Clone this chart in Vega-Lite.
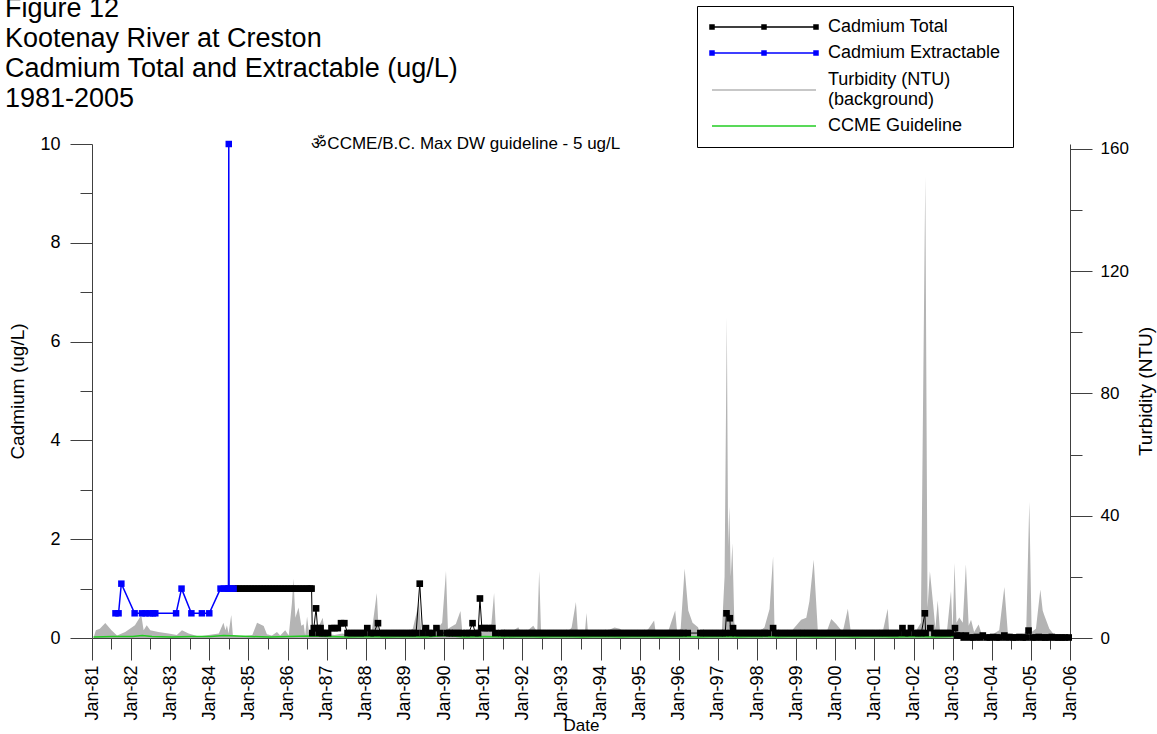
{
  "width": 978,
  "height": 494,
  "autosize": {"type": "none"},
  "padding": {"left": 92, "top": 144, "right": 87, "bottom": 96},
  "config": {
    "view": {"stroke": null},
    "font": "Liberation Sans",
    "axis": {
      "domainColor": "#404040", "tickColor": "#404040", "labelColor": "#000000", "titleColor": "#000000",
      "labelFont": "Liberation Sans", "titleFont": "Liberation Sans", "labelFontSize": 18, "titleFontSize": 19,
      "titleFontWeight": "normal", "grid": false, "domainWidth": 1, "tickWidth": 1
    }
  },
  "title": {
    "text": ["Figure 12", "Kootenay River at Creston", "Cadmium Total and Extractable (ug/L)", "1981-2005"],
    "anchor": "start", "frame": "group", "fontSize": 27, "fontWeight": "normal", "font": "Liberation Sans",
    "lineHeight": 30, "offset": 34, "dx": -87, "dy": 141, "color": "#000000"
  },
  "datasets": {
    "turb": [
      {"d":"1981-01-19","t":0.5},{"d":"1981-02-06","t":2.5},{"d":"1981-03-15","t":3},{"d":"1981-05-05","t":4.9},{"d":"1981-07-02","t":2.5},{"d":"1981-08-23","t":0.8},{"d":"1981-11-07","t":2},
      {"d":"1982-02-06","t":4.2},{"d":"1982-04-06","t":7.5},{"d":"1982-04-28","t":2.5},{"d":"1982-05-27","t":4.2},{"d":"1982-06-29","t":2.5},{"d":"1982-09-13","t":2},{"d":"1982-12-17","t":1.5},
      {"d":"1983-03-04","t":1},{"d":"1983-04-21","t":2.5},{"d":"1983-06-22","t":1.5},{"d":"1983-09-24","t":0.5},{"d":"1983-12-25","t":1},
      {"d":"1984-03-30","t":1.5},{"d":"1984-05-12","t":5},{"d":"1984-05-31","t":2.5},{"d":"1984-06-14","t":4.2},{"d":"1984-06-29","t":1.5},{"d":"1984-07-24","t":7.5},{"d":"1984-08-08","t":1},{"d":"1984-10-31","t":0.5},
      {"d":"1985-02-06","t":1},{"d":"1985-03-22","t":5},{"d":"1985-05-23","t":3.9},{"d":"1985-06-22","t":1.2},{"d":"1985-08-08","t":0.8},{"d":"1985-09-24","t":2},{"d":"1985-10-24","t":0.8},{"d":"1985-12-10","t":2.5},
      {"d":"1986-01-12","t":0.8},{"d":"1986-02-10","t":11.2},{"d":"1986-02-25","t":19.4},{"d":"1986-03-15","t":6.6},{"d":"1986-04-13","t":10},{"d":"1986-05-09","t":4},{"d":"1986-05-31","t":4.5},{"d":"1986-06-14","t":0.8},{"d":"1986-07-02","t":7},{"d":"1986-07-21","t":1.5},{"d":"1986-09-13","t":1},{"d":"1986-11-25","t":6.6},{"d":"1986-12-14","t":1.5},
      {"d":"1987-03-15","t":1},{"d":"1987-05-27","t":1.5},{"d":"1987-08-08","t":0.8},{"d":"1987-11-25","t":1},
      {"d":"1988-02-25","t":2},{"d":"1988-04-13","t":14.7},{"d":"1988-05-01","t":2},{"d":"1988-08-08","t":1},{"d":"1988-11-25","t":1},
      {"d":"1989-03-15","t":3},{"d":"1989-04-21","t":8.5},{"d":"1989-05-12","t":12},{"d":"1989-06-03","t":2},{"d":"1989-09-13","t":1},{"d":"1989-12-14","t":5},
      {"d":"1990-01-19","t":21.9},{"d":"1990-02-06","t":3},{"d":"1990-04-21","t":4.6},{"d":"1990-06-03","t":8.8},{"d":"1990-06-22","t":1.5},{"d":"1990-09-13","t":1},{"d":"1990-11-25","t":1.5},
      {"d":"1991-03-15","t":3},{"d":"1991-04-13","t":14.7},{"d":"1991-05-01","t":2},{"d":"1991-08-08","t":1},{"d":"1991-11-25","t":3.5},
      {"d":"1992-01-01","t":1},{"d":"1992-04-13","t":4},{"d":"1992-05-20","t":2},{"d":"1992-06-07","t":21.9},{"d":"1992-06-25","t":1.5},{"d":"1992-10-20","t":1},
      {"d":"1993-02-06","t":1},{"d":"1993-04-06","t":3.4},{"d":"1993-05-16","t":11.8},{"d":"1993-06-03","t":2},{"d":"1993-08-08","t":2},{"d":"1993-08-23","t":8.2},{"d":"1993-09-06","t":1.5},{"d":"1993-11-25","t":1},
      {"d":"1994-05-12","t":3.4},{"d":"1994-06-29","t":3},{"d":"1994-09-13","t":1},
      {"d":"1995-03-15","t":2.5},{"d":"1995-05-16","t":5.7},{"d":"1995-06-03","t":1},{"d":"1995-09-13","t":1},{"d":"1995-11-29","t":9},{"d":"1995-12-17","t":2},
      {"d":"1996-01-19","t":3},{"d":"1996-02-25","t":22.7},{"d":"1996-03-30","t":9},{"d":"1996-05-09","t":5},{"d":"1996-06-29","t":3.5},{"d":"1996-07-21","t":1},{"d":"1996-10-20","t":1},
      {"d":"1997-02-06","t":2},{"d":"1997-03-04","t":20},{"d":"1997-03-25","t":105},{"d":"1997-04-06","t":30},{"d":"1997-04-17","t":43},{"d":"1997-05-01","t":20},{"d":"1997-05-16","t":31},{"d":"1997-06-03","t":5},{"d":"1997-07-02","t":1},{"d":"1997-11-25","t":1},
      {"d":"1998-03-11","t":3.4},{"d":"1998-04-28","t":9.5},{"d":"1998-05-31","t":26.7},{"d":"1998-06-14","t":1.5},{"d":"1998-10-20","t":1},{"d":"1998-12-17","t":3.4},
      {"d":"1999-02-17","t":6},{"d":"1999-04-06","t":6.6},{"d":"1999-05-05","t":12},{"d":"1999-06-14","t":25.6},{"d":"1999-07-24","t":1.5},{"d":"1999-10-02","t":1},{"d":"1999-11-25","t":6.2},
      {"d":"2000-01-12","t":4.5},{"d":"2000-01-23","t":4},{"d":"2000-03-11","t":2},{"d":"2000-04-28","t":9.6},{"d":"2000-05-27","t":1.5},{"d":"2000-09-13","t":1},
      {"d":"2001-01-01","t":1},{"d":"2001-03-19","t":2},{"d":"2001-05-05","t":9.6},{"d":"2001-05-20","t":1},{"d":"2001-09-13","t":1},
      {"d":"2002-01-01","t":1},{"d":"2002-03-11","t":5},{"d":"2002-04-21","t":151},{"d":"2002-05-12","t":10},{"d":"2002-06-03","t":21.8},{"d":"2002-07-06","t":10},{"d":"2002-07-24","t":3},{"d":"2002-08-15","t":12.3},{"d":"2002-09-06","t":2},{"d":"2002-11-07","t":1.5},{"d":"2002-12-17","t":15.4},
      {"d":"2003-01-01","t":2},{"d":"2003-01-19","t":24.5},{"d":"2003-02-06","t":5},{"d":"2003-03-04","t":6.7},{"d":"2003-04-06","t":5},{"d":"2003-05-05","t":24.1},{"d":"2003-05-31","t":4},{"d":"2003-06-22","t":6},{"d":"2003-07-21","t":2},{"d":"2003-09-01","t":4.4},{"d":"2003-10-02","t":1},
      {"d":"2004-01-01","t":1},{"d":"2004-03-11","t":2.5},{"d":"2004-04-28","t":16.7},{"d":"2004-05-31","t":1.5},{"d":"2004-09-13","t":1},{"d":"2004-11-18","t":2},{"d":"2004-12-17","t":44.6},
      {"d":"2005-01-08","t":2},{"d":"2005-02-17","t":3},{"d":"2005-03-30","t":15.9},{"d":"2005-04-21","t":9},{"d":"2005-05-05","t":7.5},{"d":"2005-06-22","t":3},{"d":"2005-08-08","t":1},{"d":"2005-12-25","t":0.5}
    ],
    "gd": [
      {"d":"1981-01-15","v":0.02},{"d":"1981-07-15","v":0.03},{"d":"1982-01-15","v":0.03},{"d":"1982-04-15","v":0.05},{"d":"1982-07-15","v":0.03},{"d":"1983-01-15","v":0.02},{"d":"1983-07-15","v":0.03},
      {"d":"1984-01-15","v":0.03},{"d":"1984-05-15","v":0.05},{"d":"1984-09-15","v":0.04},{"d":"1985-01-15","v":0.03},{"d":"1985-07-15","v":0.02},{"d":"1986-01-15","v":0.03},{"d":"1986-07-15","v":0.04},
      {"d":"1987-01-15","v":0.03},{"d":"1987-07-15","v":0.02},{"d":"1988-01-15","v":0.03},{"d":"1988-07-15","v":0.02},{"d":"1989-01-15","v":0.03},{"d":"1989-07-15","v":0.02},{"d":"1990-01-15","v":0.05},
      {"d":"1990-07-15","v":0.02},{"d":"1991-01-15","v":0.03},{"d":"1991-07-15","v":0.02},{"d":"1992-01-15","v":0.03},{"d":"1992-07-15","v":0.02},{"d":"1993-01-15","v":0.03},{"d":"1993-07-15","v":0.02},
      {"d":"1994-01-15","v":0.03},{"d":"1994-07-15","v":0.02},{"d":"1995-01-15","v":0.03},{"d":"1995-07-15","v":0.02},{"d":"1996-01-15","v":0.03},{"d":"1996-07-15","v":0.02},{"d":"1997-01-15","v":0.03},
      {"d":"1997-07-15","v":0.02},{"d":"1998-01-15","v":0.03},{"d":"1998-07-15","v":0.02},{"d":"1999-01-15","v":0.03},{"d":"1999-07-15","v":0.02},{"d":"2000-01-15","v":0.03},{"d":"2000-07-15","v":0.02},
      {"d":"2001-01-15","v":0.03},{"d":"2001-07-15","v":0.02},{"d":"2002-01-15","v":0.03},{"d":"2002-07-15","v":0.02},{"d":"2003-01-23","v":0.03}
    ],
    "ext": [
      {"d":"1981-08-08","v":0.5},{"d":"1981-09-06","v":0.5},{"d":"1981-10-02","v":1.1},
      {"d":"1982-02-03","v":0.5},{"d":"1982-04-13","v":0.5},{"d":"1982-05-16","v":0.5},{"d":"1982-06-22","v":0.5},{"d":"1982-07-24","v":0.5},{"d":"1982-08-15","v":0.5},
      {"d":"1983-02-25","v":0.5},{"d":"1983-04-17","v":1.0},{"d":"1983-07-18","v":0.5},{"d":"1983-10-24","v":0.5},
      {"d":"1984-01-01","v":0.5},{"d":"1984-04-15","v":1.0},{"d":"1984-05-15","v":1.0},{"d":"1984-06-12","v":1.0},{"d":"1984-06-28","v":1.0},
      {"d":"1984-07-01","v":10},{"d":"1984-07-04","v":1.0},{"d":"1984-07-25","v":1.0},{"d":"1984-08-15","v":1.0}
    ],
    "tot": [
      {"d":"1984-08-29","v":1},{"d":"1984-09-26","v":1},{"d":"1984-10-24","v":1},{"d":"1984-11-21","v":1},{"d":"1984-12-19","v":1},{"d":"1985-01-16","v":1},{"d":"1985-02-13","v":1},{"d":"1985-03-13","v":1},{"d":"1985-04-10","v":1},{"d":"1985-05-08","v":1},{"d":"1985-06-05","v":1},{"d":"1985-07-03","v":1},{"d":"1985-07-31","v":1},{"d":"1985-08-28","v":1},{"d":"1985-09-25","v":1},{"d":"1985-10-23","v":1},{"d":"1985-11-20","v":1},{"d":"1985-12-18","v":1},{"d":"1986-01-15","v":1},{"d":"1986-02-12","v":1},{"d":"1986-03-12","v":1},{"d":"1986-04-09","v":1},{"d":"1986-05-07","v":1},{"d":"1986-06-04","v":1},{"d":"1986-07-02","v":1},{"d":"1986-07-30","v":1},{"d":"1986-08-13","v":1},
      {"d":"1986-08-20","v":0.1},{"d":"1986-09-03","v":0.2},{"d":"1986-09-24","v":0.6},{"d":"1986-10-08","v":0.2},{"d":"1986-10-22","v":0.1},{"d":"1986-11-05","v":0.2},{"d":"1986-11-19","v":0.1},{"d":"1986-12-17","v":0.1},
      {"d":"1987-01-14","v":0.1},{"d":"1987-02-15","v":0.2},{"d":"1987-03-15","v":0.2},{"d":"1987-04-15","v":0.2},{"d":"1987-05-15","v":0.3},{"d":"1987-06-15","v":0.3},{"d":"1987-07-15","v":0.1},{"d":"1987-08-15","v":0.1},{"d":"1987-09-15","v":0.1},{"d":"1987-10-15","v":0.1},{"d":"1987-11-15","v":0.1},{"d":"1987-12-15","v":0.1},
      {"d":"1988-01-15","v":0.2},{"d":"1988-02-15","v":0.1},{"d":"1988-03-15","v":0.1},{"d":"1988-04-24","v":0.3},{"d":"1988-05-15","v":0.1},{"d":"1988-06-15","v":0.1},{"d":"1988-07-15","v":0.1},{"d":"1988-08-15","v":0.1},{"d":"1988-09-15","v":0.1},{"d":"1988-10-15","v":0.1},{"d":"1988-11-15","v":0.1},{"d":"1988-12-15","v":0.1},
      {"d":"1989-01-15","v":0.1},{"d":"1989-02-15","v":0.1},{"d":"1989-03-15","v":0.1},{"d":"1989-04-15","v":0.1},{"d":"1989-05-19","v":1.1},{"d":"1989-06-15","v":0.1},{"d":"1989-07-16","v":0.2},{"d":"1989-08-15","v":0.1},{"d":"1989-09-15","v":0.1},{"d":"1989-10-22","v":0.2},{"d":"1989-11-24","v":0.1},
      {"d":"1990-01-26","v":0.1},{"d":"1990-02-20","v":0.1},{"d":"1990-03-15","v":0.1},{"d":"1990-04-15","v":0.1},{"d":"1990-05-15","v":0.1},{"d":"1990-06-15","v":0.1},{"d":"1990-07-30","v":0.1},{"d":"1990-08-20","v":0.1},{"d":"1990-09-24","v":0.3},{"d":"1990-10-20","v":0.1},{"d":"1990-11-15","v":0.1},{"d":"1990-12-02","v":0.8},{"d":"1990-12-20","v":0.2},
      {"d":"1991-01-20","v":0.2},{"d":"1991-02-20","v":0.2},{"d":"1991-03-28","v":0.2},{"d":"1991-04-25","v":0.1},{"d":"1991-06-20","v":0.1},{"d":"1991-07-15","v":0.1},{"d":"1991-08-15","v":0.1},{"d":"1991-09-15","v":0.1},{"d":"1991-10-15","v":0.1},{"d":"1991-11-15","v":0.1},{"d":"1991-12-15","v":0.1},
      {"d":"1992-01-15","v":0.1},{"d":"1992-02-15","v":0.1},{"d":"1992-03-15","v":0.1},{"d":"1992-04-15","v":0.1},{"d":"1992-05-15","v":0.1},{"d":"1992-06-15","v":0.1},{"d":"1992-07-15","v":0.1},{"d":"1992-08-15","v":0.1},{"d":"1992-09-15","v":0.1},{"d":"1992-10-15","v":0.1},{"d":"1992-11-15","v":0.1},{"d":"1992-12-15","v":0.1},
      {"d":"1993-01-15","v":0.1},{"d":"1993-02-15","v":0.1},{"d":"1993-03-15","v":0.1},{"d":"1993-04-15","v":0.1},{"d":"1993-05-15","v":0.1},{"d":"1993-06-15","v":0.1},{"d":"1993-07-15","v":0.1},{"d":"1993-08-15","v":0.1},{"d":"1993-09-15","v":0.1},{"d":"1993-10-15","v":0.1},{"d":"1993-11-15","v":0.1},{"d":"1993-12-15","v":0.1},
      {"d":"1994-01-15","v":0.1},{"d":"1994-02-15","v":0.1},{"d":"1994-03-15","v":0.1},{"d":"1994-04-15","v":0.1},{"d":"1994-05-15","v":0.1},{"d":"1994-06-15","v":0.1},{"d":"1994-07-15","v":0.1},{"d":"1994-08-15","v":0.1},{"d":"1994-09-15","v":0.1},{"d":"1994-10-15","v":0.1},{"d":"1994-11-15","v":0.1},{"d":"1994-12-15","v":0.1},
      {"d":"1995-01-15","v":0.1},{"d":"1995-02-15","v":0.1},{"d":"1995-03-15","v":0.1},{"d":"1995-04-15","v":0.1},{"d":"1995-05-15","v":0.1},{"d":"1995-06-15","v":0.1},{"d":"1995-07-15","v":0.1},{"d":"1995-08-15","v":0.1},{"d":"1995-09-15","v":0.1},{"d":"1995-10-15","v":0.1},{"d":"1995-11-15","v":0.1},{"d":"1995-12-15","v":0.1},
      {"d":"1996-01-15","v":0.1},{"d":"1996-02-15","v":0.1},{"d":"1996-03-25","v":0.1},{"d":"1996-07-21","v":0.1},{"d":"1996-08-15","v":0.1},{"d":"1996-09-15","v":0.1},{"d":"1996-10-15","v":0.1},{"d":"1996-11-15","v":0.1},{"d":"1996-12-15","v":0.1},
      {"d":"1997-01-15","v":0.1},{"d":"1997-02-15","v":0.1},{"d":"1997-03-10","v":0.1},{"d":"1997-03-22","v":0.5},{"d":"1997-04-22","v":0.4},{"d":"1997-05-01","v":0.1},{"d":"1997-05-22","v":0.2},{"d":"1997-06-15","v":0.1},{"d":"1997-07-15","v":0.1},{"d":"1997-08-15","v":0.1},{"d":"1997-09-15","v":0.1},{"d":"1997-10-15","v":0.1},{"d":"1997-11-15","v":0.1},{"d":"1997-12-15","v":0.1},
      {"d":"1998-01-15","v":0.1},{"d":"1998-02-15","v":0.1},{"d":"1998-03-15","v":0.1},{"d":"1998-04-15","v":0.1},{"d":"1998-05-31","v":0.2},{"d":"1998-06-20","v":0.1},{"d":"1998-07-15","v":0.1},{"d":"1998-08-15","v":0.1},{"d":"1998-09-15","v":0.1},{"d":"1998-10-15","v":0.1},{"d":"1998-11-15","v":0.1},{"d":"1998-12-15","v":0.1},
      {"d":"1999-01-15","v":0.1},{"d":"1999-02-15","v":0.1},{"d":"1999-03-15","v":0.1},{"d":"1999-04-15","v":0.1},{"d":"1999-05-15","v":0.1},{"d":"1999-06-15","v":0.1},{"d":"1999-07-15","v":0.1},{"d":"1999-08-15","v":0.1},{"d":"1999-09-15","v":0.1},{"d":"1999-10-15","v":0.1},{"d":"1999-11-15","v":0.1},{"d":"1999-12-15","v":0.1},
      {"d":"2000-01-15","v":0.1},{"d":"2000-02-15","v":0.1},{"d":"2000-03-15","v":0.1},{"d":"2000-04-15","v":0.1},{"d":"2000-05-15","v":0.1},{"d":"2000-06-15","v":0.1},{"d":"2000-07-15","v":0.1},{"d":"2000-08-15","v":0.1},{"d":"2000-09-15","v":0.1},{"d":"2000-10-15","v":0.1},{"d":"2000-11-15","v":0.1},{"d":"2000-12-15","v":0.1},
      {"d":"2001-01-15","v":0.1},{"d":"2001-02-15","v":0.1},{"d":"2001-03-15","v":0.1},{"d":"2001-04-15","v":0.1},{"d":"2001-05-15","v":0.1},{"d":"2001-06-15","v":0.1},{"d":"2001-07-15","v":0.1},{"d":"2001-08-15","v":0.1},{"d":"2001-09-20","v":0.2},{"d":"2001-10-15","v":0.1},{"d":"2001-11-15","v":0.1},{"d":"2001-12-08","v":0.2},
      {"d":"2002-01-15","v":0.1},{"d":"2002-02-15","v":0.1},{"d":"2002-03-15","v":0.1},{"d":"2002-04-17","v":0.5},{"d":"2002-04-24","v":0.1},{"d":"2002-06-07","v":0.2},{"d":"2002-07-15","v":0.1},{"d":"2002-08-15","v":0.1},{"d":"2002-09-15","v":0.1},{"d":"2002-10-15","v":0.1},{"d":"2002-11-15","v":0.1},{"d":"2002-12-15","v":0.1},
      {"d":"2003-01-23","v":0.2},{"d":"2003-02-10","v":0.05},{"d":"2003-03-15","v":0.05},{"d":"2003-04-15","v":0.01},{"d":"2003-05-05","v":0.05},{"d":"2003-06-15","v":0.01},{"d":"2003-07-15","v":0.01},{"d":"2003-08-15","v":0.02},{"d":"2003-09-15","v":0.01},{"d":"2003-10-10","v":0.05},{"d":"2003-11-15","v":0.01},{"d":"2003-12-15","v":0.01},
      {"d":"2004-01-15","v":0.02},{"d":"2004-02-15","v":0.01},{"d":"2004-03-15","v":0.01},{"d":"2004-04-28","v":0.05},{"d":"2004-05-15","v":0.01},{"d":"2004-06-15","v":0.02},{"d":"2004-07-15","v":0.01},{"d":"2004-08-15","v":0.01},{"d":"2004-09-15","v":0.02},{"d":"2004-10-15","v":0.01},{"d":"2004-11-15","v":0.01},{"d":"2004-12-10","v":0.15},
      {"d":"2005-01-15","v":0.01},{"d":"2005-02-15","v":0.01},{"d":"2005-03-15","v":0.02},{"d":"2005-04-15","v":0.01},{"d":"2005-05-15","v":0.01},{"d":"2005-06-15","v":0.01},{"d":"2005-07-15","v":0.02},{"d":"2005-08-15","v":0.01},{"d":"2005-09-15","v":0.01},{"d":"2005-10-15","v":0.01},{"d":"2005-11-15","v":0.01},{"d":"2005-12-20","v":0.01}
    ],
    "note": [{"d":"1986-08-11","v":10,"label":"ॐCCME/B.C. Max DW guideline - 5 ug/L"}]
  },
  "encoding": {
    "x": {
      "field": "d", "type": "temporal",
      "scale": {"domain": [{"year":1981,"month":1,"date":1},{"year":2006,"month":1,"date":1}]},
      "axis": {
        "values": [
          {"year":1981,"month":1,"date":1},{"year":1981,"month":7,"date":1},{"year":1982,"month":1,"date":1},{"year":1982,"month":7,"date":1},
          {"year":1983,"month":1,"date":1},{"year":1983,"month":7,"date":1},{"year":1984,"month":1,"date":1},{"year":1984,"month":7,"date":1},
          {"year":1985,"month":1,"date":1},{"year":1985,"month":7,"date":1},{"year":1986,"month":1,"date":1},{"year":1986,"month":7,"date":1},
          {"year":1987,"month":1,"date":1},{"year":1987,"month":7,"date":1},{"year":1988,"month":1,"date":1},{"year":1988,"month":7,"date":1},
          {"year":1989,"month":1,"date":1},{"year":1989,"month":7,"date":1},{"year":1990,"month":1,"date":1},{"year":1990,"month":7,"date":1},
          {"year":1991,"month":1,"date":1},{"year":1991,"month":7,"date":1},{"year":1992,"month":1,"date":1},{"year":1992,"month":7,"date":1},
          {"year":1993,"month":1,"date":1},{"year":1993,"month":7,"date":1},{"year":1994,"month":1,"date":1},{"year":1994,"month":7,"date":1},
          {"year":1995,"month":1,"date":1},{"year":1995,"month":7,"date":1},{"year":1996,"month":1,"date":1},{"year":1996,"month":7,"date":1},
          {"year":1997,"month":1,"date":1},{"year":1997,"month":7,"date":1},{"year":1998,"month":1,"date":1},{"year":1998,"month":7,"date":1},
          {"year":1999,"month":1,"date":1},{"year":1999,"month":7,"date":1},{"year":2000,"month":1,"date":1},{"year":2000,"month":7,"date":1},
          {"year":2001,"month":1,"date":1},{"year":2001,"month":7,"date":1},{"year":2002,"month":1,"date":1},{"year":2002,"month":7,"date":1},
          {"year":2003,"month":1,"date":1},{"year":2003,"month":7,"date":1},{"year":2004,"month":1,"date":1},{"year":2004,"month":7,"date":1},
          {"year":2005,"month":1,"date":1},{"year":2005,"month":7,"date":1},{"year":2006,"month":1,"date":1}
        ],
        "labelExpr": "month(datum.value) == 0 ? timeFormat(datum.value, '%b-%y') : ''",
        "labelAngle": -90, "labelPadding": 5, "labelOverlap": false, "labelFlush": false, "labelBound": false,
        "tickSize": {"condition": {"test": "month(datum.value) == 0", "value": 22}, "value": 11},
        "title": "Date", "titleFontSize": 17, "titlePadding": -3
      }
    }
  },
  "layer": [
    {
      "data": {"name": "turb"},
      "mark": {"type": "area", "color": "#b4b4b4"},
      "encoding": {
        "y": {
          "field": "t", "type": "quantitative",
          "scale": {"domain": [0, 161.6], "nice": false},
          "axis": {
            "orient": "right", "values": [0,20,40,60,80,100,120,140,160],
            "labelExpr": "datum.value % 40 == 0 ? datum.label : ''",
            "tickSize": {"condition": {"test": "datum.value % 40 == 0", "value": 22}, "value": 12},
            "labelPadding": 8, "labelFontSize": 17, "title": "Turbidity (NTU)", "titleAngle": -90, "titleBaseline": "top", "titlePadding": 8
          }
        }
      }
    },
    {
      "layer": [
        {
          "data": {"name": "gd"},
          "mark": {"type": "line", "color": "#22cc22", "strokeWidth": 1.5},
          "encoding": {
            "y": {
              "field": "v", "type": "quantitative",
              "scale": {"domain": [0, 10], "nice": false},
              "axis": {
                "values": [0,1,2,3,4,5,6,7,8,9,10],
                "labelExpr": "datum.value % 2 == 0 ? datum.label : ''",
                "tickSize": {"condition": {"test": "datum.value % 2 == 0", "value": 22}, "value": 12},
                "labelPadding": 10, "title": "Cadmium (ug/L)", "titlePadding": 12
              }
            }
          }
        },
        {
          "data": {"name": "tot"},
          "mark": {"type": "line", "color": "#000000", "strokeWidth": 1},
          "encoding": {
            "y": {"field": "v", "type": "quantitative"}
          }
        },
        {
          "data": {"name": "tot"},
          "mark": {"type": "point", "filled": true, "shape": "square", "size": 44, "strokeWidth": 0, "opacity": 1},
          "encoding": {
            "y": {"field": "v", "type": "quantitative"},
            "color": {"datum": "Cadmium Total", "type": "nominal",
              "scale": {"domain": ["Cadmium Total", "Cadmium Extractable", "Turbidity (NTU) (background)", "CCME Guideline"], "range": ["#000000", "#0000ff", "#b4b4b4", "#22cc22"]},
              "legend": {"orient": "none", "legendX": 605, "legendY": -138, "title": null, "direction": "vertical", "symbolSize": 100, "symbolOffset": -6, "labelOffset": 107, "labelFontSize": 18, "labelFont": "Liberation Sans", "labelColor": "#000000", "labelLimit": 400, "padding": 12, "rowPadding": 8, "strokeColor": "#000000", "fillColor": "#ffffff",
                "labelExpr": "datum.label == 'Turbidity (NTU) (background)' ? ['Turbidity (NTU)', '(background)'] : datum.label",
                "encoding": {
                  "symbols": {
                    "shape": {"condition": [{"test": "datum.value == 'Cadmium Total' || datum.value == 'Cadmium Extractable'", "value": "M0,0H20.8M-0.4,-0.4H0.4V0.4H-0.4ZM10,-0.4H10.8V0.4H10ZM20.4,-0.4H21.2V0.4H20.4Z"}], "value": "M0,0H20.8"},
                    "stroke": {"condition": [{"test": "datum.value == 'Cadmium Total'", "value": "#000000"}, {"test": "datum.value == 'Cadmium Extractable'", "value": "#0000ff"}, {"test": "datum.value == 'CCME Guideline'", "value": "#22cc22"}], "value": "#b4b4b4"},
                    "size": {"value": 100},
                    "strokeWidth": {"value": 1.5},
                    "opacity": {"value": 1}
                  },
                  "labels": {
                    "dy": {"condition": [{"test": "datum.value == 'Turbidity (NTU) (background)'", "value": -10.5}], "value": 0}
                  }
                }
              }
            }
          }
        },
        {
          "data": {"name": "ext"},
          "mark": {"type": "line", "color": "#0000ff", "strokeWidth": 1.5},
          "encoding": {
            "y": {"field": "v", "type": "quantitative"}
          }
        },
        {
          "data": {"name": "ext"},
          "mark": {"type": "point", "filled": true, "shape": "square", "size": 42, "strokeWidth": 0, "opacity": 1},
          "encoding": {
            "y": {"field": "v", "type": "quantitative"},
            "color": {"datum": "Cadmium Extractable", "type": "nominal"}
          }
        },
        {
          "data": {"name": "note"},
          "mark": {"type": "text", "align": "left", "baseline": "middle", "fontSize": 17, "font": "Liberation Sans", "color": "#000000"},
          "encoding": {
            "y": {"field": "v", "type": "quantitative"},
            "text": {"field": "label"}
          }
        }
      ]
    }
  ],
  "resolve": {"scale": {"y": "independent"}}
}
